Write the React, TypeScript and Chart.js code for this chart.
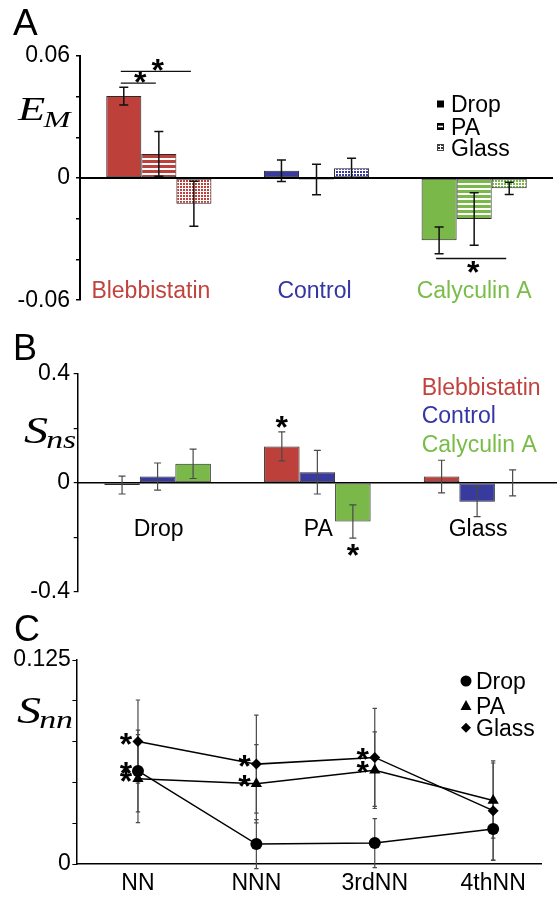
import React, { useEffect, useRef } from "react";
import { Chart, registerables } from "chart.js";
Chart.register(...registerables);

const FONT = '"Liberation Sans", Arial, sans-serif';
const SERIF = '"Liberation Serif", "Times New Roman", serif';

// ---------- Panel A : E_M ----------
const treatments = ["Blebbistatin", "Control", "Calyculin A"];
const substrates = ["Drop", "PA", "Glass"];
const emDrop = [0.0403, 0.0036, -0.0306];
const emDropErr = [0.0044, 0.0053, 0.0066];
const emPA = [0.0119, -0.0007, -0.0201];
const emPAErr = [0.011, 0.0075, 0.0129];
const emGlass = [-0.0126, 0.0049, -0.005];
const emGlassErr = [0.011, 0.0048, 0.003];
const emTickLabels = [-0.06, 0, 0.06];
const emBrackets = [
  { treatment: 0, from: 0, to: 1, level: 0.0467, below: false },
  { treatment: 0, from: 0, to: 2, level: 0.0524, below: false },
  { treatment: 2, from: 0, to: 2, level: -0.0395, below: true },
];

// ---------- Panel B : S_ns ----------
const surfaces = ["Drop", "PA", "Glass"];
const snsBleb = [-0.008, 0.134, 0.023];
const snsBlebErr = [0.033, 0.053, 0.06];
const snsControl = [0.023, 0.039, -0.069];
const snsControlErr = [0.05, 0.08, 0.055];
const snsCaly = [0.07, -0.142, 0.0];
const snsCalyErr = [0.054, 0.061, 0.048];
const snsTickLabels = [-0.4, 0, 0.4];
const snsStars = [
  { series: 0, cat: 1, below: false },
  { series: 2, cat: 1, below: true },
];

// ---------- Panel C : S_nn ----------
const neighbours = ["NN", "NNN", "3rdNN", "4thNN"];
const snnDrop = [0.057, 0.0122, 0.0128, 0.0214];
const snnDropErr = [0.025, 0.015, 0.015, 0.019];
const snnPA = [0.0523, 0.0492, 0.0575, 0.0389];
const snnPAErr = [0.027, 0.024, 0.0235, 0.023];
const snnGlass = [0.075, 0.0612, 0.0653, 0.0327];
const snnGlassErr = [0.0255, 0.03, 0.03, 0.0305];
const snnTickLabels = [0, 0.125];
const snnStars = [
  { series: 2, cat: 0 },
  { series: 0, cat: 0 },
  { series: 1, cat: 0 },
  { series: 2, cat: 1 },
  { series: 1, cat: 1 },
  { series: 2, cat: 2 },
  { series: 1, cat: 2 },
];

const RED = "#BE403B";
const BLUE = "#393A9E";
const GREEN = "#7AB84A";
const treatColors = [RED, BLUE, GREEN];
const textColors = ["#C1433E", "#3535A6", "#79BC47"];

function stripePattern(color: string) {
  const c = document.createElement("canvas");
  c.width = 4;
  c.height = 5;
  const g = c.getContext("2d")!;
  g.fillStyle = color;
  g.fillRect(0, 0, 4, 5);
  g.fillStyle = "#fff";
  g.fillRect(0, 3, 4, 2);
  return g.createPattern(c, "repeat")!;
}
function dotPattern(color: string) {
  const c = document.createElement("canvas");
  c.width = 3;
  c.height = 3;
  const g = c.getContext("2d")!;
  g.fillStyle = "#fff";
  g.fillRect(0, 0, 3, 3);
  g.fillStyle = color;
  g.fillRect(0, 0, 2, 2);
  return g.createPattern(c, "repeat")!;
}

function capText(ctx: CanvasRenderingContext2D, text: string, x: number, cy: number, size: number, color: string, align: CanvasTextAlign = "left") {
  ctx.font = `${size}px ${FONT}`;
  ctx.fillStyle = color;
  ctx.textAlign = align;
  ctx.textBaseline = "alphabetic";
  ctx.fillText(text, x, cy + size * 0.358);
}
function star(ctx: CanvasRenderingContext2D, x: number, cy: number, size = 32) {
  ctx.font = `bold ${size}px ${FONT}`;
  const m = ctx.measureText("*");
  ctx.textAlign = "center";
  ctx.textBaseline = "alphabetic";
  ctx.fillStyle = "#000";
  ctx.fillText("*", x, cy + (m.actualBoundingBoxAscent - m.actualBoundingBoxDescent) / 2);
}
function mathLabel(ctx: CanvasRenderingContext2D, main: string, sub: string, x: number, baseline: number, mainSize: number, subSize: number, subDrop: number, stretch: number) {
  ctx.save();
  ctx.translate(x, baseline);
  ctx.scale(stretch, 1);
  ctx.fillStyle = "#000";
  ctx.textAlign = "left";
  ctx.textBaseline = "alphabetic";
  ctx.font = `italic ${mainSize}px ${SERIF}`;
  ctx.fillText(main, 0, 0);
  const w = ctx.measureText(main).width;
  ctx.font = `italic ${subSize}px ${SERIF}`;
  ctx.fillText(sub, w - mainSize * 0.04, subDrop);
  ctx.restore();
}
function errorBar(ctx: CanvasRenderingContext2D, x: number, y1: number, y2: number, half: number) {
  ctx.beginPath();
  ctx.moveTo(x, y1);
  ctx.lineTo(x, y2);
  ctx.moveTo(x - half, y1);
  ctx.lineTo(x + half, y1);
  ctx.moveTo(x - half, y2);
  ctx.lineTo(x + half, y2);
  ctx.stroke();
}
function tickCallback(list: number[]) {
  return (v: any) => {
    const t = list.find((t) => Math.abs(t - Number(v)) < 1e-9);
    return t === undefined ? "" : String(t);
  };
}

function makeA(canvas: HTMLCanvasElement) {
  const vals = [emDrop, emPA, emGlass];
  const errs = [emDropErr, emPAErr, emGlassErr];
  const plugin = {
    id: "panelA",
    afterDatasetsDraw(chart: any) {
      const { ctx, chartArea, scales } = chart;
      const y = scales.y;
      const x = scales.x;
      ctx.save();
      const y0 = y.getPixelForValue(0);
      ctx.strokeStyle = "#000";
      ctx.lineWidth = 2;
      ctx.beginPath();
      ctx.moveTo(chartArea.left, y0);
      ctx.lineTo(chartArea.right, y0);
      ctx.stroke();
      // error bars
      ctx.lineWidth = 1.5;
      ctx.strokeStyle = "#111";
      vals.forEach((arr, d) => {
        const meta = chart.getDatasetMeta(d);
        arr.forEach((v, i) => {
          const el = meta.data[i];
          errorBar(ctx, el.x, y.getPixelForValue(v + errs[d][i]), y.getPixelForValue(v - errs[d][i]), 4.5);
        });
      });
      // significance brackets
      ctx.lineWidth = 1.3;
      emBrackets.forEach((b) => {
        const xa = chart.getDatasetMeta(b.from).data[b.treatment].x - 3;
        const xb = chart.getDatasetMeta(b.to).data[b.treatment].x - 3;
        const yl = y.getPixelForValue(b.level);
        ctx.strokeStyle = "#111";
        ctx.beginPath();
        ctx.moveTo(xa, yl);
        ctx.lineTo(xb, yl);
        ctx.stroke();
        star(ctx, (xa + xb) / 2 + 2, b.below ? yl + 9 : yl - 6);
      });
      // treatment labels
      const nudge = [-8, -2, 0];
      treatments.forEach((t, i) => {
        capText(ctx, t, x.getPixelForValue(i) + nudge[i], 290, 23, textColors[i], "center");
      });
      // legend
      const ly = [104, 126.5, 147.5];
      const lx = 437;
      ctx.fillStyle = "#000";
      ctx.fillRect(lx, ly[0] - 3.5, 7, 7);
      ctx.fillRect(lx, ly[1] - 3.5, 7, 7);
      ctx.fillStyle = "#fff";
      ctx.fillRect(lx + 1, ly[1] - 0.8, 5, 1.6);
      ctx.fillStyle = dotPattern("#333");
      ctx.fillRect(lx, ly[2] - 3.5, 7, 7);
      ctx.strokeStyle = "#444";
      ctx.lineWidth = 1;
      ctx.strokeRect(lx + 0.5, ly[2] - 3, 6, 6);
      substrates.forEach((s, i) => capText(ctx, s, 451, ly[i], 23, "#000"));
      // panel letter and axis title
      capText(ctx, "A", 13, 21.5, 37, "#000");
      mathLabel(ctx, "E", "M", 18, 120, 33, 24, 7, 1.35);
      ctx.restore();
    },
  };
  return new Chart(canvas, {
    type: "bar",
    data: {
      labels: treatments,
      datasets: [
        { label: substrates[0], data: emDrop, backgroundColor: treatColors, borderColor: "#2a2a2a", borderWidth: 1, borderSkipped: false },
        { label: substrates[1], data: emPA, backgroundColor: treatColors.map(stripePattern), borderColor: "#2a2a2a", borderWidth: 1, borderSkipped: false },
        { label: substrates[2], data: emGlass, backgroundColor: treatColors.map(dotPattern), borderColor: "#2a2a2a", borderWidth: 1, borderSkipped: false },
      ] as any,
    },
    options: {
      responsive: false,
      animation: false,
      devicePixelRatio: 1,
      layout: { padding: { top: 56, bottom: 11, left: 0, right: 4 } },
      plugins: { legend: { display: false }, tooltip: { enabled: false } },
      datasets: { bar: { categoryPercentage: 0.667, barPercentage: 1 } },
      scales: {
        x: { display: false },
        y: {
          min: -0.06,
          max: 0.06,
          afterFit: (s: any) => { s.width = 80; },
          ticks: { stepSize: 0.02, callback: tickCallback(emTickLabels), font: { family: FONT, size: 23 }, color: "#000", padding: 6 },
          grid: { drawOnChartArea: false, drawTicks: true, tickLength: 4, color: "#000", lineWidth: 1.5 },
          border: { color: "#000", width: 2 },
        },
      },
    } as any,
    plugins: [plugin],
  });
}

function makeB(canvas: HTMLCanvasElement) {
  const vals = [snsBleb, snsControl, snsCaly];
  const errs = [snsBlebErr, snsControlErr, snsCalyErr];
  const plugin = {
    id: "panelB",
    afterDatasetsDraw(chart: any) {
      const { ctx, chartArea, scales } = chart;
      const y = scales.y;
      const x = scales.x;
      ctx.save();
      const y0 = y.getPixelForValue(0);
      ctx.strokeStyle = "#000";
      ctx.lineWidth = 1.5;
      ctx.beginPath();
      ctx.moveTo(chartArea.left, y0);
      ctx.lineTo(chartArea.right, y0);
      ctx.stroke();
      ctx.strokeStyle = "#4a4a4a";
      ctx.lineWidth = 1.2;
      vals.forEach((arr, d) => {
        const meta = chart.getDatasetMeta(d);
        arr.forEach((v, i) => {
          errorBar(ctx, meta.data[i].x, y.getPixelForValue(v + errs[d][i]), y.getPixelForValue(v - errs[d][i]), 3.5);
        });
      });
      snsStars.forEach((s) => {
        const el = chart.getDatasetMeta(s.series).data[s.cat];
        const v = vals[s.series][s.cat];
        const e = errs[s.series][s.cat];
        if (s.below) star(ctx, el.x, y.getPixelForValue(v - e) + 12);
        else star(ctx, el.x, y.getPixelForValue(v + e) - 10);
      });
      surfaces.forEach((s, i) => capText(ctx, s, x.getPixelForValue(i) + 1, 207.5, 23, "#000", "center"));
      const ly = [66.7, 95, 123.3];
      treatments.forEach((t, i) => capText(ctx, t, 421.7, ly[i], 23, textColors[i]));
      capText(ctx, "B", 13, 27.5, 36, "#000");
      mathLabel(ctx, "S", "ns", 24, 123.3, 37, 26, 5, 1.3);
      ctx.restore();
    },
  };
  return new Chart(canvas, {
    type: "bar",
    data: {
      labels: surfaces,
      datasets: treatments.map((t, i) => ({
        label: t,
        data: vals[i],
        backgroundColor: treatColors[i],
        borderColor: "#2a2a2a",
        borderWidth: 1,
        borderSkipped: false,
      })) as any,
    },
    options: {
      responsive: false,
      animation: false,
      devicePixelRatio: 1,
      layout: { padding: { top: 54, bottom: 18.3, left: 0, right: 0 } },
      plugins: { legend: { display: false }, tooltip: { enabled: false } },
      datasets: { bar: { categoryPercentage: 0.667, barPercentage: 1 } },
      scales: {
        x: { display: false },
        y: {
          min: -0.4,
          max: 0.4,
          afterFit: (s: any) => { s.width = 77.7; },
          ticks: { stepSize: 0.1, callback: tickCallback(snsTickLabels), font: { family: FONT, size: 23 }, color: "#000", padding: 3.7 },
          grid: { drawOnChartArea: false, drawTicks: true, tickLength: 4, color: "#000", lineWidth: 1.2 },
          border: { color: "#000", width: 1.5 },
        },
      },
    } as any,
    plugins: [plugin],
  });
}

function makeC(canvas: HTMLCanvasElement) {
  const vals = [snnDrop, snnPA, snnGlass];
  const errs = [snnDropErr, snnPAErr, snnGlassErr];
  const styles = ["circle", "triangle", "rectRot"];
  const radii = [6, 6.5, 5.5];
  const names = ["Drop", "PA", "Glass"];
  const plugin = {
    id: "panelC",
    beforeDatasetsDraw(chart: any) {
      const { ctx, scales } = chart;
      const y = scales.y;
      ctx.save();
      ctx.strokeStyle = "#4a4a4a";
      ctx.lineWidth = 1.2;
      vals.forEach((arr, d) => {
        const meta = chart.getDatasetMeta(d);
        arr.forEach((v, i) => {
          errorBar(ctx, meta.data[i].x, y.getPixelForValue(v + errs[d][i]), y.getPixelForValue(v - errs[d][i]), 2.2);
        });
      });
      ctx.restore();
    },
    afterDatasetsDraw(chart: any) {
      const { ctx } = chart;
      ctx.save();
      snnStars.forEach((s) => {
        const el = chart.getDatasetMeta(s.series).data[s.cat];
        star(ctx, el.x - 12, el.y - 3);
      });
      // legend
      const ly = [71, 96, 117.7];
      const mx = 466;
      ctx.fillStyle = "#000";
      ctx.beginPath();
      ctx.arc(mx, ly[0], 5.5, 0, Math.PI * 2);
      ctx.fill();
      ctx.beginPath();
      ctx.moveTo(mx, ly[1] - 6);
      ctx.lineTo(mx + 5.5, ly[1] + 4);
      ctx.lineTo(mx - 5.5, ly[1] + 4);
      ctx.closePath();
      ctx.fill();
      ctx.beginPath();
      ctx.moveTo(mx, ly[2] - 5);
      ctx.lineTo(mx + 5, ly[2]);
      ctx.lineTo(mx, ly[2] + 5);
      ctx.lineTo(mx - 5, ly[2]);
      ctx.closePath();
      ctx.fill();
      names.forEach((n, i) => capText(ctx, n, 476, ly[i], 23, "#000"));
      capText(ctx, "C", 14, 18.5, 36, "#000");
      mathLabel(ctx, "S", "nn", 17, 113.3, 37, 26, 5, 1.3);
      ctx.restore();
    },
  };
  return new Chart(canvas, {
    type: "line",
    data: {
      datasets: vals.map((arr, d) => ({
        label: names[d],
        data: arr.map((v, i) => ({ x: i, y: v })),
        borderColor: "#000",
        borderWidth: 1.5,
        backgroundColor: "#000",
        pointBackgroundColor: "#000",
        pointBorderColor: "#000",
        pointBorderWidth: 0,
        pointStyle: styles[d],
        pointRadius: radii[d],
        tension: 0,
        fill: false,
        clip: false,
      })) as any,
    },
    options: {
      responsive: false,
      animation: false,
      devicePixelRatio: 1,
      layout: { padding: { top: 50, bottom: 0, left: 0, right: 15.3 } },
      plugins: { legend: { display: false }, tooltip: { enabled: false } },
      scales: {
        x: {
          type: "linear",
          min: -0.52,
          max: 3.41,
          afterFit: (s: any) => { s.height = 33; },
          afterBuildTicks: (s: any) => { s.ticks = neighbours.map((_, i) => ({ value: i })); },
          ticks: {
            autoSkip: false,
            maxRotation: 0,
            padding: 6,
            font: { family: FONT, size: 23 },
            color: "#000",
            callback: (v: any) => neighbours[Math.round(Number(v))] ?? "",
          },
          grid: { display: false, drawTicks: false, tickLength: 0 },
          border: { color: "#000", width: 1.5 },
        },
        y: {
          min: 0,
          max: 0.125,
          afterFit: (s: any) => { s.width = 76.4; },
          ticks: { stepSize: 0.025, callback: tickCallback(snnTickLabels), font: { family: FONT, size: 23 }, color: "#000", padding: 1.5 },
          grid: { drawOnChartArea: false, drawTicks: true, tickLength: 4, color: "#000", lineWidth: 1 },
          border: { color: "#000", width: 1.5 },
        },
      },
    } as any,
    plugins: [plugin],
  });
}

export default function App() {
  const refA = useRef<HTMLCanvasElement>(null);
  const refB = useRef<HTMLCanvasElement>(null);
  const refC = useRef<HTMLCanvasElement>(null);
  useEffect(() => {
    const charts = [makeA(refA.current!), makeB(refB.current!), makeC(refC.current!)];
    return () => charts.forEach((c) => c.destroy());
  }, []);
  const cs = (top: number, h: number): React.CSSProperties => ({ position: "absolute", left: 0, top, width: 557, height: h, display: "block" });
  return (
    <div style={{ position: "fixed", left: 0, top: 0, width: 557, height: 897, background: "#fff", overflow: "hidden" }}>
      <canvas ref={refA} width={557} height={320} style={cs(0, 320)} />
      <canvas ref={refB} width={557} height={290} style={cs(320, 290)} />
      <canvas ref={refC} width={557} height={287} style={cs(610, 287)} />
    </div>
  );
}
